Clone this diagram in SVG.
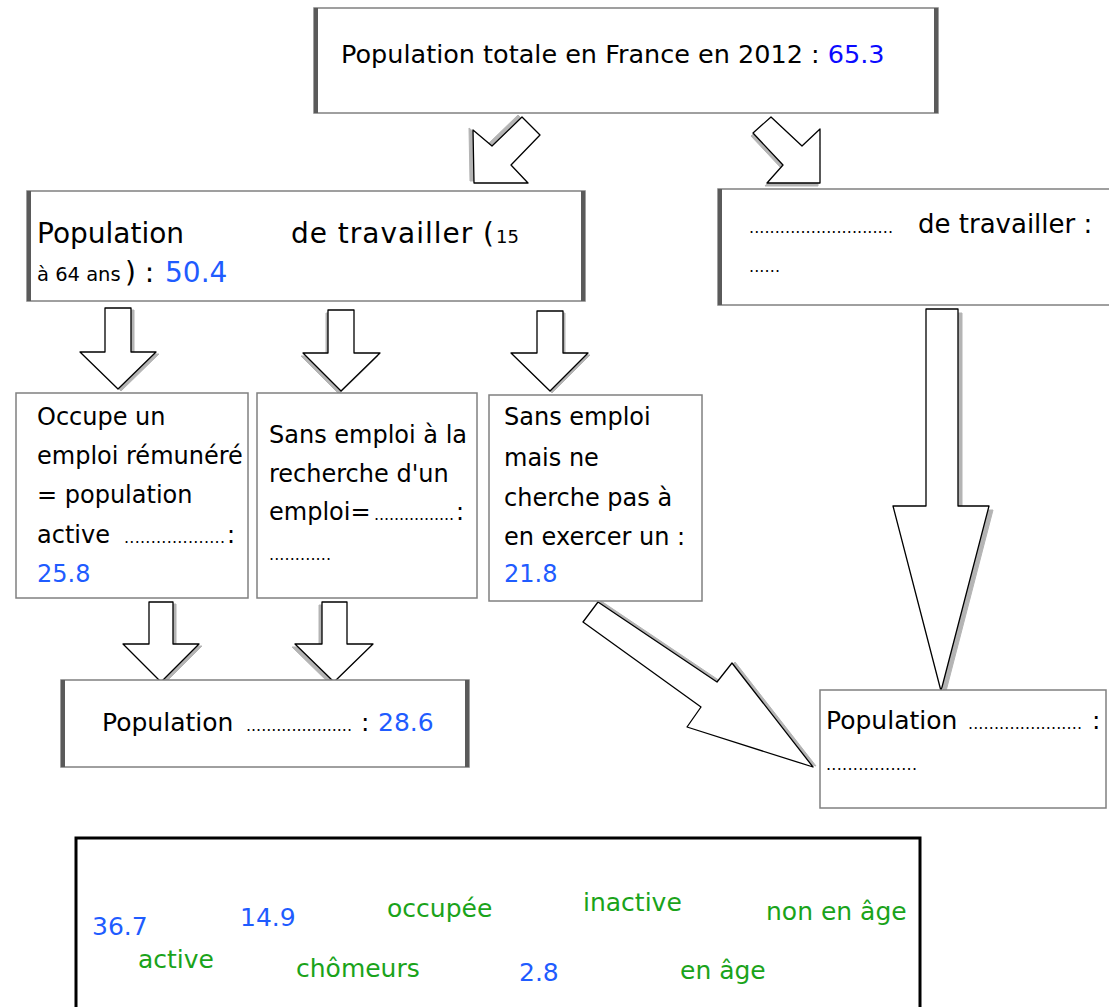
<svg xmlns="http://www.w3.org/2000/svg" width="1109" height="1007" viewBox="0 0 1109 1007">
<defs>
<style>
.box{fill:#fff;stroke:#808080;stroke-width:1.5}
.side{stroke:#5a5a5a;stroke-width:4}
.arrow{fill:#fff;stroke:#000;stroke-width:1.3;stroke-linejoin:round}
.shadow{fill:#b4b4b4;stroke:#b4b4b4;stroke-width:1;stroke-linejoin:round}
text{font-family:"DejaVu Sans","Liberation Sans",sans-serif;fill:#000}
.t24{font-size:24px}
.t25{font-size:25px}
.dots{font-size:16px}
.b{fill:#1f5cff}
.bb{fill:#0b0bff}
.g{fill:#1aa31a}
</style>
</defs>
<rect width="1109" height="1007" fill="#fff"/>

<g id="connectors">
  <polygon class="shadow" points="472,182 471,129 490,145 520,116 538,134 509,164 526,182" transform="translate(-2,-1)"/>
  <polygon class="arrow" points="474,183 473,130 492,146 522,117 540,135 511,165 528,183"/>
  <polygon class="shadow" points="820,183 767,183 783,165 753,133 771,117 802,146 820,129" transform="translate(-2,3)"/>
  <polygon class="arrow" points="820,183 767,183 783,165 753,133 771,117 802,146 820,129"/>
  <polygon class="shadow" points="105,308 131,308 131,352 156,352 118,389 80,352 105,352" transform="translate(3,2)"/>
  <polygon class="arrow" points="105,308 131,308 131,352 156,352 118,389 80,352 105,352"/>
  <polygon class="shadow" points="328,310 354,310 354,353 380,353 341,391 303,353 328,353" transform="translate(-2,3)"/>
  <polygon class="arrow" points="328,310 354,310 354,353 380,353 341,391 303,353 328,353"/>
  <polygon class="shadow" points="537,311 563,311 563,353 588,353 550,391 511,353 537,353" transform="translate(2,2)"/>
  <polygon class="arrow" points="537,311 563,311 563,353 588,353 550,391 511,353 537,353"/>
  <polygon class="shadow" points="149,602 173,602 173,644 199,644 161,682 123,644 149,644" transform="translate(3,2)"/>
  <polygon class="arrow" points="149,602 173,602 173,644 199,644 161,682 123,644 149,644"/>
  <polygon class="shadow" points="322,602 347,602 347,644 373,644 334,682 295,644 322,644" transform="translate(-3,3)"/>
  <polygon class="arrow" points="322,602 347,602 347,644 373,644 334,682 295,644 322,644"/>
  <polygon class="shadow" points="926,309 958,309 958,506 989,506 941,691 893,506 926,506" transform="translate(4,4)"/>
  <polygon class="arrow" points="926,309 958,309 958,506 989,506 941,691 893,506 926,506"/>
  <polygon class="shadow" points="583,622 598,602 717,682 732,663 813,767 687,727 701,707" transform="translate(3,-1)"/>
  <polygon class="arrow" points="583,622 598,602 717,682 732,663 813,767 687,727 701,707"/>
</g>

<g id="node-total">
  <rect class="box" x="314" y="8" width="624" height="105"/>
  <line class="side" x1="316" y1="8" x2="316" y2="113"/>
  <line class="side" x1="936" y1="8" x2="936" y2="113"/>
  <text x="341" y="63" style="font-size:25.5px">Population totale en France en 2012 : <tspan class="bb">65.3</tspan></text>
</g>

<g id="node-age">
  <rect class="box" x="27" y="191" width="558" height="110"/>
  <line class="side" x1="29" y1="191" x2="29" y2="301"/>
  <line class="side" x1="583" y1="191" x2="583" y2="301"/>
  <text x="37" y="243" style="font-size:28px">Population</text>
  <text x="291" y="243" style="font-size:28px" textLength="203" lengthAdjust="spacing">de travailler (</text>
  <text x="496" y="243" style="font-size:18px">15</text>
  <text x="37" y="281" style="font-size:19.5px">à 64 ans</text>
  <text x="125" y="282" style="font-size:28px">) :</text>
  <text x="165" y="282" class="b" style="font-size:28px">50.4</text>
</g>

<g id="node-non-age">
  <rect class="box" x="718" y="189" width="400" height="116"/>
  <line class="side" x1="720" y1="189" x2="720" y2="305"/>
  <text x="749" y="233" class="dots" textLength="144" lengthAdjust="spacing">............................</text>
  <text x="918" y="233" style="font-size:26px">de travailler :</text>
  <text x="749" y="272" class="dots" textLength="31" lengthAdjust="spacing">......</text>
</g>

<g id="node-occupe">
  <rect class="box" x="16" y="393" width="232" height="205"/>
  <text class="t24" x="37" y="425">Occupe un</text>
  <text class="t24" x="37" y="464">emploi rémunéré</text>
  <text class="t24" x="37" y="503">= population</text>
  <text class="t24" x="37" y="543">active</text>
  <text x="124" y="543" class="dots" textLength="101" lengthAdjust="spacing">...................</text>
  <text class="t24" x="227" y="543">:</text>
  <text class="t24 b" x="37" y="582">25.8</text>
</g>

<g id="node-recherche">
  <rect class="box" x="257" y="393" width="220" height="205"/>
  <text class="t24" x="269" y="443">Sans emploi à la</text>
  <text class="t24" x="269" y="482">recherche d'un</text>
  <text class="t24" x="269" y="520">emploi=</text>
  <text x="374" y="520" class="dots" textLength="80" lengthAdjust="spacing">................</text>
  <text class="t24" x="456" y="520">:</text>
  <text x="269" y="560" class="dots" textLength="62" lengthAdjust="spacing">............</text>
</g>

<g id="node-sans-emploi">
  <rect class="box" x="489" y="395" width="213" height="206"/>
  <text class="t24" x="504" y="425">Sans emploi</text>
  <text class="t24" x="504" y="466">mais ne</text>
  <text class="t24" x="504" y="506">cherche pas à</text>
  <text class="t24" x="504" y="545">en exercer un :</text>
  <text class="t24 b" x="504" y="582">21.8</text>
</g>

<g id="node-active">
  <rect class="box" x="61" y="680" width="408" height="87"/>
  <line class="side" x1="63" y1="680" x2="63" y2="767"/>
  <line class="side" x1="467" y1="680" x2="467" y2="767"/>
  <text class="t25" x="102" y="731">Population</text>
  <text x="246" y="731" class="dots" textLength="106" lengthAdjust="spacing">.....................</text>
  <text class="t25" x="361" y="731">:</text>
  <text class="t25 b" x="378" y="731">28.6</text>
</g>

<g id="node-inactive">
  <rect class="box" x="820" y="690" width="286" height="118"/>
  <text class="t25" x="826" y="729">Population</text>
  <text x="968" y="729" class="dots" textLength="114" lengthAdjust="spacing">......................</text>
  <text class="t25" x="1092" y="729">:</text>
  <text x="826" y="770" class="dots" textLength="91" lengthAdjust="spacing">.................</text>
</g>

<g id="node-words">
  <rect x="76" y="838" width="844" height="200" fill="#fff" stroke="#000" stroke-width="3"/>
  <text class="t25 b" x="92" y="935">36.7</text>
  <text class="t25 b" x="240" y="926">14.9</text>
  <text class="t25 g" x="387" y="917">occupée</text>
  <text class="t25 g" x="583" y="911">inactive</text>
  <text class="t25 g" x="766" y="920">non en âge</text>
  <text class="t25 g" x="138" y="968">active</text>
  <text class="t25 g" x="296" y="977">chômeurs</text>
  <text class="t25 b" x="519" y="981">2.8</text>
  <text class="t25 g" x="680" y="979">en âge</text>
</g>
</svg>
